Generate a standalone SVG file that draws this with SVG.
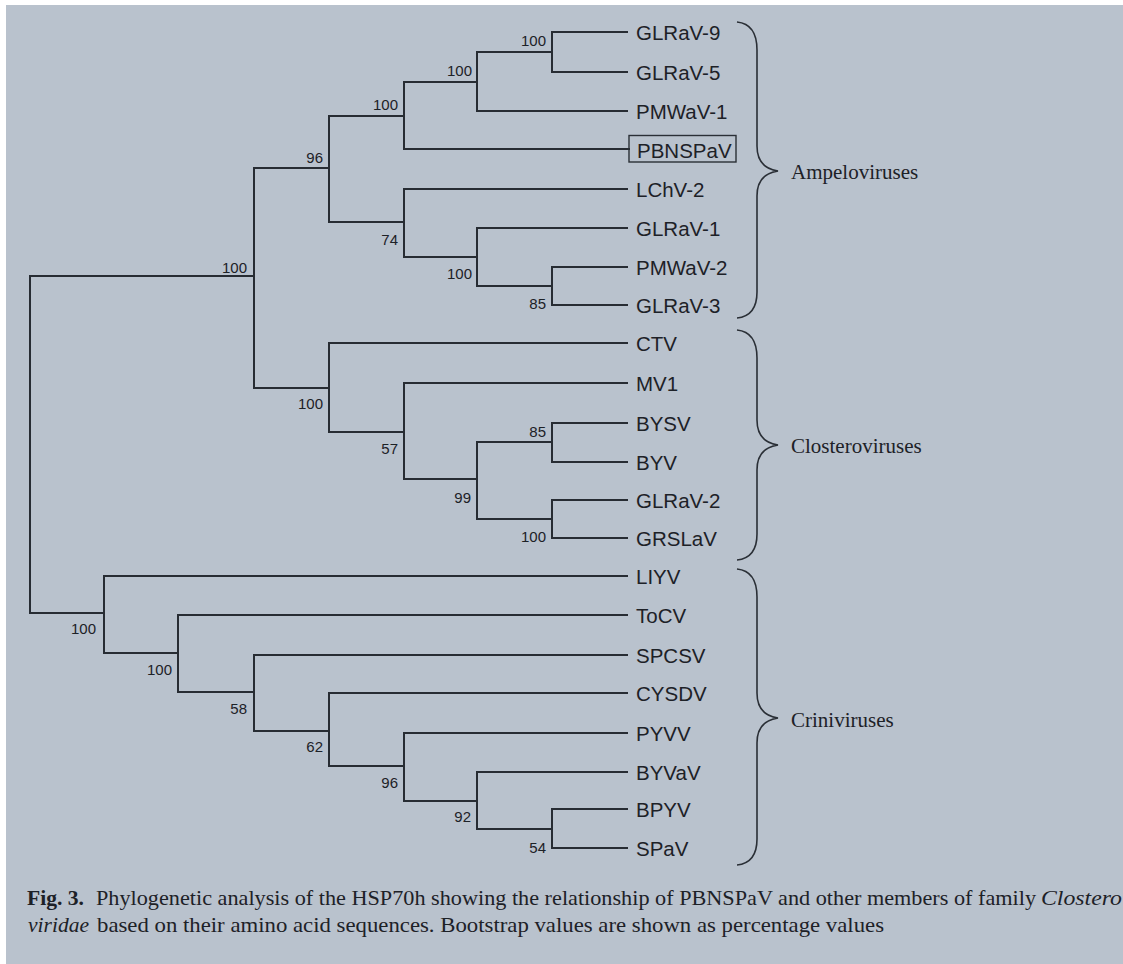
<svg xmlns="http://www.w3.org/2000/svg" width="1123" height="964" viewBox="0 0 1123 964">
<style>
.edge{fill:none;stroke:#272c33;stroke-width:2;stroke-linecap:square}
.leaf{font-family:"Liberation Sans",Arial,sans-serif;font-size:20.5px;fill:#1d2127}
.bs{font-family:"Liberation Sans",Arial,sans-serif;font-size:15px;fill:#1d2127;text-anchor:end}
.brace{fill:none;stroke:#2a2f36;stroke-width:1.6}
.grp{font-family:"Liberation Serif","Times New Roman",serif;font-size:21px;fill:#1d2127}
.cap{font-family:"Liberation Serif","Times New Roman",serif;font-size:21px;fill:#1d2127}
</style>
<rect x="0" y="0" width="1123" height="964" fill="#ffffff"/>
<rect x="6" y="5" width="1117" height="959" fill="#b9c2cd"/>
<g id="connectors">
<path class="edge" d="M30,276 V613 M30,276 H254 M30,613 H104
M254,168 V388 M254,168 H329 M254,388 H329
M329,116 V222 M329,116 H404 M329,222 H404
M404,82 V149 M404,82 H477 M404,149 H629
M477,52 V111 M477,52 H552 M477,111 H627
M552,32 V72 M552,32 H627 M552,72 H627
M404,189 V257 M404,189 H627 M404,257 H477
M477,228 V286 M477,228 H627 M477,286 H552
M552,267 V305 M552,267 H627 M552,305 H627
M329,343 V432 M329,343 H627 M329,432 H404
M404,383 V479 M404,383 H627 M404,479 H477
M477,442 V519 M477,442 H552 M477,519 H552
M552,423 V462 M552,423 H627 M552,462 H627
M552,500 V538 M552,500 H627 M552,538 H627
M104,576 V653 M104,576 H627 M104,653 H178
M178,615 V692 M178,615 H627 M178,692 H254
M254,655 V731 M254,655 H627 M254,731 H329
M329,693 V766 M329,693 H627 M329,766 H404
M404,733 V801 M404,733 H627 M404,801 H477
M477,772 V829 M477,772 H627 M477,829 H552
M552,809 V848 M552,809 H627 M552,848 H627"/>
</g>
<g id="bootstrap">
<g id="n-A"><text class="bs" x="247" y="273">100</text></g>
<g id="n-B"><text class="bs" x="323" y="163">96</text></g>
<g id="n-C"><text class="bs" x="398" y="110">100</text></g>
<g id="n-D"><text class="bs" x="472" y="76">100</text></g>
<g id="n-E"><text class="bs" x="546" y="46">100</text></g>
<g id="n-F"><text class="bs" x="398" y="245">74</text></g>
<g id="n-G"><text class="bs" x="472" y="279">100</text></g>
<g id="n-H"><text class="bs" x="546" y="309">85</text></g>
<g id="n-I"><text class="bs" x="323" y="409">100</text></g>
<g id="n-J"><text class="bs" x="398" y="454">57</text></g>
<g id="n-K"><text class="bs" x="471" y="503">99</text></g>
<g id="n-L"><text class="bs" x="546" y="437">85</text></g>
<g id="n-M"><text class="bs" x="546" y="542">100</text></g>
<g id="n-N"><text class="bs" x="96" y="634">100</text></g>
<g id="n-O"><text class="bs" x="172" y="675">100</text></g>
<g id="n-P"><text class="bs" x="247" y="714">58</text></g>
<g id="n-Q"><text class="bs" x="323" y="752">62</text></g>
<g id="n-R"><text class="bs" x="398" y="788">96</text></g>
<g id="n-S"><text class="bs" x="471" y="822">92</text></g>
<g id="n-T"><text class="bs" x="546" y="853">54</text></g>
</g>
<g id="leaves">
<g id="leaf-GLRaV-9"><text class="leaf" x="636" y="40">GLRaV-9</text></g>
<g id="leaf-GLRaV-5"><text class="leaf" x="636" y="80">GLRaV-5</text></g>
<g id="leaf-PMWaV-1"><text class="leaf" x="636" y="119">PMWaV-1</text></g>
<g id="leaf-PBNSPaV"><rect x="629" y="135.5" width="107" height="26.5" fill="none" stroke="#2a2f36" stroke-width="1.4"/><text class="leaf" x="637" y="158">PBNSPaV</text></g>
<g id="leaf-LChV-2"><text class="leaf" x="636" y="197">LChV-2</text></g>
<g id="leaf-GLRaV-1"><text class="leaf" x="636" y="236">GLRaV-1</text></g>
<g id="leaf-PMWaV-2"><text class="leaf" x="636" y="275">PMWaV-2</text></g>
<g id="leaf-GLRaV-3"><text class="leaf" x="636" y="313">GLRaV-3</text></g>
<g id="leaf-CTV"><text class="leaf" x="636" y="351">CTV</text></g>
<g id="leaf-MV1"><text class="leaf" x="636" y="391">MV1</text></g>
<g id="leaf-BYSV"><text class="leaf" x="636" y="431">BYSV</text></g>
<g id="leaf-BYV"><text class="leaf" x="636" y="470">BYV</text></g>
<g id="leaf-GLRaV-2"><text class="leaf" x="636" y="508">GLRaV-2</text></g>
<g id="leaf-GRSLaV"><text class="leaf" x="636" y="546">GRSLaV</text></g>
<g id="leaf-LIYV"><text class="leaf" x="636" y="584">LIYV</text></g>
<g id="leaf-ToCV"><text class="leaf" x="636" y="623">ToCV</text></g>
<g id="leaf-SPCSV"><text class="leaf" x="636" y="663">SPCSV</text></g>
<g id="leaf-CYSDV"><text class="leaf" x="636" y="701">CYSDV</text></g>
<g id="leaf-PYVV"><text class="leaf" x="636" y="741">PYVV</text></g>
<g id="leaf-BYVaV"><text class="leaf" x="636" y="780">BYVaV</text></g>
<g id="leaf-BPYV"><text class="leaf" x="636" y="817">BPYV</text></g>
<g id="leaf-SPaV"><text class="leaf" x="636" y="856">SPaV</text></g>
</g>
<g id="group-Ampeloviruses">
<path class="brace" d="M737,22 Q757,24 757,50 L757,146 Q757,168 778,171 Q757,174 757,196 L757,292 Q757,316 737,318"/>
<text class="grp" x="791" y="179">Ampeloviruses</text>
</g>
<g id="group-Closteroviruses">
<path class="brace" d="M737,330 Q757,332 757,358 L757,420 Q757,442 778,445 Q757,448 757,470 L757,534 Q757,558 737,560"/>
<text class="grp" x="791" y="453">Closteroviruses</text>
</g>
<g id="group-Criniviruses">
<path class="brace" d="M737,569 Q757,571 757,597 L757,693 Q757,715 778,718 Q757,721 757,743 L757,839 Q757,863 737,865"/>
<text class="grp" x="791" y="727">Criniviruses</text>
</g>
<g id="caption">
<text class="cap" x="27" y="905" font-weight="bold" textLength="57" lengthAdjust="spacingAndGlyphs">Fig. 3.</text>
<text class="cap" x="96" y="905" textLength="940" lengthAdjust="spacingAndGlyphs">Phylogenetic analysis of the HSP70h showing the relationship of PBNSPaV and other members of family</text>
<text class="cap" x="1041" y="905" font-style="italic" textLength="81" lengthAdjust="spacingAndGlyphs">Clostero</text>
<text class="cap" x="28" y="932" font-style="italic" textLength="61" lengthAdjust="spacingAndGlyphs">viridae</text>
<text class="cap" x="97" y="932" textLength="787" lengthAdjust="spacingAndGlyphs">based on their amino acid sequences. Bootstrap values are shown as percentage values</text>
</g>
</svg>
